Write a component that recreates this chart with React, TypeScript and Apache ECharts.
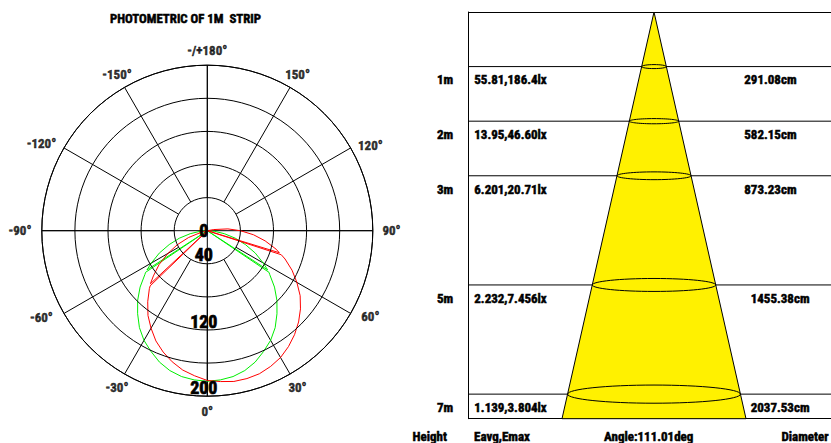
import React, { useEffect, useRef } from 'react';
import * as echarts from 'echarts';

const FONT = '"Liberation Sans Narrow", "Arial Narrow", "Roboto Condensed", "DejaVu Sans Condensed", sans-serif';

// ---------- polar (photometric) data ----------
const chartTitle = 'PHOTOMETRIC OF 1M  STRIP';
const radiusLabelsShown = [0, 40, 120, 200];
const angleLabelAngles = [-180, -150, -120, -90, -60, -30, 0, 30, 60, 90, 120, 150];

const greenAngles = [-90, -85, -80, -75, -70, -65, -60, -57, -56.5, -56, -55, -50, -45, -40, -35, -30, -25, -20, -15, -10, -5, 0, 5, 10, 15, 20, 25, 30, 35, 40, 45, 50, 55, 56, 56.5, 57, 60, 65, 70, 75, 80, 85, 90];
const greenValues = [0, 9, 21, 35, 49, 64, 78, 87, 0, 90, 92, 106, 119, 131, 143, 153, 161, 169, 175, 179, 181, 182, 181, 179, 175, 169, 161, 153, 143, 131, 119, 106, 92, 90, 0, 87, 78, 64, 49, 35, 21, 9, 0];

const redAngles = [-77.5, -75, -70, -65, -60, -55, -50, -47, -46.5, -46, -45, -40, -35, -30, -25, -20, -15, -10, -5, 0, 5, 10, 15, 20, 25, 30, 35, 40, 45, 50, 55, 60, 65, 70, 72, 72.5, 73, 75, 80, 85, 90, 95, 100, 102.5];
const redValues = [0, 8, 24, 40, 55, 71, 85, 94, 0, 96, 99, 112, 125, 136, 147, 156, 164, 171, 176, 181, 183, 185, 185, 184, 181, 177, 171, 164, 156, 147, 137, 125, 113, 100, 94, 0, 91, 86, 71, 56, 40, 25, 8, 0];

// ---------- beam cone data ----------
const heights = [1, 2, 3, 5, 7];
const heightLabels = ['1m', '2m', '3m', '5m', '7m'];
const illuminance = ['55.81,186.4lx', '13.95,46.60lx', '6.201,20.71lx', '2.232,7.456lx', '1.139,3.804lx'];
const diameters = [291.08, 582.15, 873.23, 1455.38, 2037.53];
const beamAngle = 111.01;
const columnTitles = ['Height', 'Eavg,Emax', 'Angle:' + beamAngle.toFixed(2) + 'deg', 'Diameter'];

const POLAR_R = 165.5;
const R_MAX = 200;
const Y_MAX = 7.45;
const X_MIN = -2184;
const X_MAX = 2086;

const toAxisAngle = (a: number) => (a < 0 ? a + 360 : a);

export default function App() {
  const ref = useRef<HTMLDivElement>(null);
  useEffect(() => {
    document.body.style.margin = '0';
    if (!ref.current) return;
    const chart = echarts.init(ref.current, undefined, { renderer: 'svg' });
    const black = '#000';
    const lastIdx = heights.length - 1;

    const angleText = (a: number) => (Math.abs(a) === 180 ? '-/+180°' : a + '°');
    // label placement (distance in pixels -> radius units, small angular nudge)
    const labelRadius = (a: number) => {
      const m = Math.abs(a);
      const px = m === 60 || m === 120 || m === 90 ? 185.5 + (a < 0 ? 1.8 : -1.3) : 180.5;
      return (px / POLAR_R) * R_MAX;
    };
    const labelAngle = (a: number) => {
      const m = Math.abs(a);
      const s = a < 0 ? -1 : 1;
      return a + (m === 60 ? 2.3 * s : m === 120 ? -2.3 * s : 0);
    };

    const txt = (text: string, x: number, y: number, size: number, align: string) => ({
      type: 'text', x, y,
      style: {
        text, font: 'bold ' + size + 'px ' + FONT, fill: black, stroke: black, lineWidth: 0.5,
        align, verticalAlign: 'middle', textAlign: align, textVerticalAlign: 'middle',
      },
    });

    const option: any = {
      animation: false,
      graphic: [
        txt(chartTitle, 185.5, 18.8, 12.8, 'center'),
        ...columnTitles.map((t, i) => {
          const xs = [429.7, 474, 648.7, 805];
          const al = ['center', 'left', 'center', 'center'];
          return txt(t, xs[i], 436.3, 13, al[i]);
        }),
      ],
      polar: [
        { center: [207.3, 230.7], radius: POLAR_R },
        { center: [207.3, 230.7], radius: [33.1, POLAR_R] },
      ],
      angleAxis: [
        {
          polarIndex: 0, type: 'value', min: 0, max: 360, interval: 90, startAngle: 270, clockwise: false,
          axisLine: { show: true, lineStyle: { color: black, width: 1 } },
          axisTick: { show: false }, axisLabel: { show: false },
          splitLine: { show: true, lineStyle: { color: black, width: 1 } },
        },
        {
          polarIndex: 1, type: 'value', min: 0, max: 360, interval: 30, startAngle: 270, clockwise: false,
          axisLine: { show: false }, axisTick: { show: false }, axisLabel: { show: false },
          splitLine: { show: true, lineStyle: { color: black, width: 1 } },
        },
      ],
      radiusAxis: [
        {
          polarIndex: 0, type: 'value', min: 0, max: R_MAX, interval: 40,
          axisLine: { show: false }, axisTick: { show: false },
          splitLine: { show: true, lineStyle: { color: black, width: 1 } },
          axisLabel: {
            show: true, margin: 0, align: 'center', verticalAlign: 'middle', lineHeight: 18,
            padding: [0, 7, 0, 0], color: black, fontFamily: FONT, fontSize: 18, fontWeight: 'bold',
            textBorderColor: black, textBorderWidth: 0.7,
            showMinLabel: true, showMaxLabel: true,
            formatter: (v: number) => (radiusLabelsShown.indexOf(v) < 0 ? '' : v === 0 ? '0' : v + '\n '),
          },
          z: 5,
        },
        { polarIndex: 1, type: 'value', min: 0, max: R_MAX, show: false },
      ],
      grid: { left: 468.7, top: 12, width: 362.3, height: 406.7, containLabel: false },
      xAxis: [
        {
          type: 'value', min: X_MIN, max: X_MAX, position: 'top',
          axisLine: { show: true, onZero: false, lineStyle: { color: black, width: 1 } },
          axisTick: { show: false }, axisLabel: { show: false }, splitLine: { show: false },
        },
        {
          type: 'value', min: X_MIN, max: X_MAX, position: 'bottom',
          axisLine: { show: true, onZero: false, lineStyle: { color: black, width: 1 } },
          axisTick: { show: false }, axisLabel: { show: false }, splitLine: { show: false },
        },
      ],
      yAxis: {
        type: 'value', inverse: true, min: 0, max: Y_MAX,
        axisLine: { show: true, onZero: false, lineStyle: { color: black, width: 1 } },
        axisTick: { show: false }, axisLabel: { show: false }, splitLine: { show: false },
      },
      series: [
        {
          type: 'line', coordinateSystem: 'polar', polarIndex: 0, showSymbol: false, symbol: 'none', silent: true,
          data: greenAngles.map((a, i) => [greenValues[i], toAxisAngle(a)]),
          lineStyle: { color: '#00ee00', width: 1 }, z: 3,
        },
        {
          type: 'line', coordinateSystem: 'polar', polarIndex: 0, showSymbol: false, symbol: 'none', silent: true,
          data: redAngles.map((a, i) => [redValues[i], toAxisAngle(a)]),
          lineStyle: { color: '#ff0000', width: 1 }, z: 4,
        },
        {
          // angle labels
          type: 'scatter', coordinateSystem: 'polar', polarIndex: 0, clip: false, silent: true, z: 6,
          symbolSize: 1, itemStyle: { color: 'rgba(0,0,0,0)' },
          data: angleLabelAngles.map((a) => ({ value: [labelRadius(a), toAxisAngle(labelAngle(a))], name: angleText(a) })),
          label: {
            show: true, position: 'inside', formatter: (p: any) => p.name,
            color: black, fontFamily: FONT, fontSize: 13, fontWeight: 'bold',
            textBorderColor: black, textBorderWidth: 0.5, align: 'center', verticalAlign: 'middle',
          },
        },
        {
          // row separators
          type: 'custom', coordinateSystem: 'cartesian2d', xAxisIndex: 0, yAxisIndex: 0, clip: false, silent: true, z: 2,
          data: heights.map((h) => [0, h]),
          renderItem: (params: any, api: any) => {
            const cs = params.coordSys;
            const y = api.coord([0, api.value(1)])[1];
            return { type: 'line', shape: { x1: cs.x, y1: y, x2: cs.x + cs.width, y2: y }, style: { stroke: black, lineWidth: 1 } };
          },
        },
        {
          // beam cone
          type: 'custom', coordinateSystem: 'cartesian2d', xAxisIndex: 0, yAxisIndex: 0, clip: false, silent: true, z: 3,
          data: [[diameters[lastIdx], heights[lastIdx]]],
          renderItem: (params: any, api: any) => {
            const half = (api.value(0) / 2) * (Y_MAX / api.value(1));
            const pts = [api.coord([-half, Y_MAX]), api.coord([0, 0]), api.coord([half, Y_MAX])];
            return { type: 'polygon', shape: { points: pts }, style: { fill: '#fff100', stroke: black, lineWidth: 1 } };
          },
        },
        {
          // ellipses
          type: 'custom', coordinateSystem: 'cartesian2d', xAxisIndex: 0, yAxisIndex: 0, clip: false, silent: true, z: 4,
          data: heights.map((h, i) => [diameters[i], h]),
          renderItem: (params: any, api: any) => {
            const c = api.coord([0, api.value(1)]);
            const rx = api.size([api.value(0) / 2, 0])[0];
            const ry = Math.max(2, rx * 0.105);
            return { type: 'ellipse', shape: { cx: c[0], cy: c[1], rx, ry }, style: { fill: 'none', stroke: black, lineWidth: 1 } };
          },
        },
        {
          // row labels
          type: 'custom', coordinateSystem: 'cartesian2d', xAxisIndex: 0, yAxisIndex: 0, clip: false, silent: true, z: 5,
          data: heights.map((h, i) => [i, h]),
          renderItem: (params: any, api: any) => {
            const i = api.value(0);
            const h = api.value(1);
            const y = api.coord([0, h])[1] + 13.3;
            return {
              type: 'group',
              children: [
                txt(heightLabels[i], 445, y, 13, 'center'),
                txt(illuminance[i], 474.3, y, 13, 'left'),
                txt(diameters[i].toFixed(2) + 'cm', h >= 5 ? 750.7 : 744.3, y, 13, 'left'),
              ],
            };
          },
        },
      ],
    };
    chart.setOption(option);
    return () => chart.dispose();
  }, []);
  return <div ref={ref} style={{ width: 831, height: 443 }} />;
}
